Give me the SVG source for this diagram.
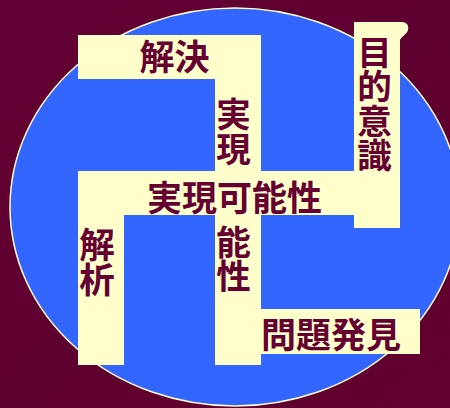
<svg xmlns="http://www.w3.org/2000/svg" width="450" height="408" viewBox="0 0 450 408">
  <defs>
    <linearGradient id="bg" x1="0" y1="0" x2="1" y2="1">
      <stop offset="0" stop-color="#640034"/>
      <stop offset="0.5" stop-color="#5e002f"/>
      <stop offset="1" stop-color="#62002f"/>
    </linearGradient>
  </defs>
  <style>
    .arm { fill: #ffffcc; }
    .lbl { font-family: "Noto Sans CJK JP", "Noto Sans CJK SC", sans-serif; font-weight: 700; font-size: 35px; fill: #660033; text-anchor: middle; }
    .v { font-size: 34.5px; writing-mode: vertical-rl; text-orientation: upright; }
  </style>
  <rect x="0" y="0" width="450" height="408" fill="url(#bg)"/>
  <ellipse id="disc" cx="235" cy="207" rx="225" ry="199" fill="#3366ff" stroke="#ffffcc" stroke-width="1.5"/>

  <g id="shape">
    <rect class="arm" x="78" y="35" width="183" height="44"/>
    <rect class="arm" x="215" y="35" width="46" height="330"/>
    <rect class="arm" x="78" y="171" width="322" height="44"/>
    <rect class="arm" x="78" y="171" width="46" height="194"/>
    <rect class="arm" x="215" y="309" width="205" height="45"/>
    <path class="arm" d="M354 22 L402 22 C407 22 409 26 408 30 C407 34 402 36 400 40 L400 228 L354 228 Z"/>
  </g>

  <g id="n-kaiketsu"><text class="lbl" x="174.5" y="70">解決</text></g>
  <g id="n-jitsugen-kanousei"><text class="lbl" x="234.5" y="211">実現可能性</text></g>
  <g id="n-jitsugen"><text class="lbl v" x="233.5" y="131.5">実現</text></g>
  <g id="n-kanousei"><text class="lbl v" x="233.5" y="259">能性</text></g>
  <g id="n-kaiseki"><text class="lbl v" x="97" y="262" style="font-size:35.5px">解析</text></g>
  <g id="n-mondai-hakken"><text class="lbl" x="331" y="348">問題発見</text></g>
  <g id="n-mokuteki-ishiki"><text class="lbl v" x="374.5" y="103.5">目的意識</text></g>
  <g id="connectors"/>
</svg>
